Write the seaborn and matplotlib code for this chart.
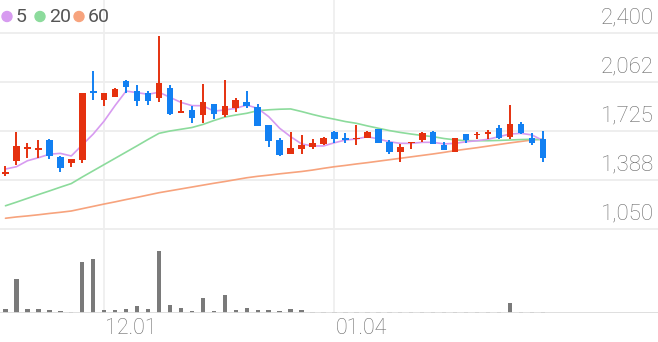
import numpy as np
import pandas as pd
import matplotlib
matplotlib.use("Agg")
import matplotlib.pyplot as plt
from matplotlib.patches import Ellipse
from matplotlib.transforms import blended_transform_factory
import seaborn as sns

# ---------------- data ----------------
opens = [1430, 1518, 1599, 1594, 1663, 1548, 1502, 1525, 2000, 1939,
         1961, 2071, 2000, 1985, 1954, 2019, 1849, 1870, 1835, 1909,
         1835, 1881, 1923, 1892, 1766, 1663, 1567, 1599, 1617, 1633,
         1720, 1675, 1668, 1679, 1737, 1651, 1578, 1640, 1663, 1716,
         1629, 1578, 1702, 1695, 1704, 1748, 1686, 1771, 1679, 1668]
closes = [1445, 1622, 1613, 1608, 1553, 1468, 1530, 1985, 1989, 1985,
          2014, 2026, 1932, 1932, 2054, 1840, 1863, 1812, 1927, 1840,
          1897, 1939, 1899, 1762, 1656, 1560, 1606, 1629, 1640, 1679,
          1670, 1663, 1679, 1720, 1640, 1578, 1617, 1647, 1709, 1636,
          1594, 1675, 1663, 1706, 1716, 1675, 1773, 1713, 1640, 1537]
highs = [1486, 1716, 1640, 1663, 1670, 1553, 1532, 1987, 2140, 1987,
         2021, 2076, 2042, 2000, 2381, 2042, 1939, 1897, 2047, 1911,
         2076, 1950, 2000, 1911, 1766, 1675, 1720, 1697, 1670, 1684,
         1725, 1709, 1766, 1725, 1739, 1663, 1633, 1651, 1720, 1725,
         1647, 1677, 1704, 1720, 1732, 1766, 1904, 1785, 1709, 1725]
lows = [1417, 1491, 1541, 1539, 1530, 1445, 1479, 1502, 1939, 1897,
        1959, 1985, 1897, 1902, 1927, 1835, 1847, 1782, 1778, 1808,
        1824, 1858, 1881, 1760, 1613, 1556, 1565, 1565, 1599, 1629,
        1644, 1640, 1629, 1677, 1639, 1565, 1514, 1599, 1647, 1633,
        1591, 1577, 1644, 1668, 1668, 1670, 1668, 1704, 1629, 1514]
volumes = [40, 340, 40, 40, 30, 20, 10, 510, 545, 30,
           30, 40, 70, 40, 617, 80, 50, 25, 150, 25,
           180, 30, 50, 30, 30, 20, 40, 30, 12, 10,
           8, 8, 15, 8, 8, 8, 8, 8, 10, 8,
           6, 6, 6, 6, 6, 10, 100, 10, 10, 15]
ma5 = [1463, 1479, 1520, 1541, 1565, 1571, 1553, 1629, 1704, 1794,
       1901, 2000, 1989, 1978, 1992, 1957, 1922, 1900, 1899, 1862,
       1870, 1881, 1904, 1881, 1824, 1744, 1686, 1636, 1622, 1622,
       1644, 1663, 1670, 1686, 1670, 1651, 1640, 1640, 1647, 1647,
       1636, 1640, 1651, 1658, 1668, 1686, 1704, 1709, 1698, 1660]
ma20 = [1210, 1235, 1261, 1287, 1312, 1338, 1363, 1408, 1451, 1494,
        1537, 1580, 1623, 1667, 1709, 1725, 1737, 1749, 1770, 1797,
        1821, 1835, 1847, 1865, 1871, 1875, 1877, 1859, 1839, 1821,
        1806, 1790, 1778, 1760, 1744, 1728, 1715, 1704, 1694, 1686,
        1673, 1664, 1658, 1658, 1658, 1660, 1663, 1666, 1668, 1665]
ma60 = [1124, 1133, 1140, 1148, 1157, 1165, 1174, 1190, 1206, 1222,
        1237, 1253, 1268, 1284, 1300, 1313, 1326, 1339, 1352, 1365,
        1377, 1390, 1403, 1413, 1421, 1430, 1438, 1446, 1456, 1468,
        1479, 1488, 1498, 1507, 1517, 1527, 1537, 1547, 1557, 1567,
        1578, 1590, 1600, 1610, 1621, 1632, 1643, 1653, 1663, 1670]
price_ticks = [1050, 1387.5, 1725, 2062.5, 2400]
price_labels = ["1,050", "1,388", "1,725", "2,062", "2,400"]
date_ticks = [9, 30]
date_labels = ["12.01", "01.04"]
legend_labels = ["5", "20", "60"]

# ---------------- style ----------------
RED = "#e5310f"
BLUE = "#1280f2"
C5, C20, C60 = "#d79bf0", "#8cdb9c", "#f7a37d"
GRID = "#eeeeee"
sns.set_theme(style="white")
plt.rcParams["font.family"] = ["Roboto", "DejaVu Sans"]

W, H = 658, 342
fig = plt.figure(figsize=(W / 100, H / 100), dpi=100)

idx = np.arange(len(closes))
df = pd.DataFrame({"i": idx, "open": opens, "close": closes, "high": highs,
                   "low": lows, "vol": volumes, "ma5": ma5, "ma20": ma20,
                   "ma60": ma60})

# pixel geometry
px_per_price = 49 / 337.5
price_top_px, price_bot_px = 0, 235
vol_top_px, vol_bot_px = 235, 313
XLIM = (-0.5, 59.5)

ax = fig.add_axes([0, (H - price_bot_px) / H, 1, (price_bot_px - price_top_px) / H])
axv = fig.add_axes([0, (H - vol_bot_px) / H, 1, (vol_bot_px - vol_top_px) / H])

ybot = 1050 - (price_bot_px - 229) / px_per_price
ytop = 2400 + (33 - price_top_px) / px_per_price

for a in (ax, axv):
    a.set_facecolor("none")
    for s in a.spines.values():
        s.set_visible(False)
    for t in date_ticks:
        a.axvline(t, color=GRID, lw=1.2, zorder=0)

for p in price_ticks:
    ax.axhline(p, color=GRID, lw=1.4, zorder=0)

# MA lines
sns.lineplot(data=df, x="i", y="ma60", ax=ax, color=C60, lw=1.2, zorder=2)
sns.lineplot(data=df, x="i", y="ma20", ax=ax, color=C20, lw=1.2, zorder=2)
sns.lineplot(data=df, x="i", y="ma5", ax=ax, color=C5, lw=1.2, zorder=2)

# candles
cols = [RED if c >= o else BLUE for o, c in zip(opens, closes)]
ax.vlines(idx, lows, highs, colors=cols, lw=1.4, zorder=3)
bottoms = np.minimum(opens, closes)
heights = np.maximum(np.abs(np.array(closes) - np.array(opens)), 9)
ax.bar(idx, heights, bottom=bottoms, width=0.6, color=cols, zorder=4,
       linewidth=0)

ax.set_xlim(*XLIM)
ax.set_ylim(ybot, ytop)
ax.set_xticks([])
ax.set_yticks([])
ax.set_xlabel("")
ax.set_ylabel("")

# price labels, right aligned, just above gridlines
tr = blended_transform_factory(ax.transAxes, ax.transData)
for p, lab in zip(price_ticks, price_labels):
    ax.annotate(lab, xy=(1, p), xycoords=tr, xytext=(-4, 5),
                textcoords="offset pixels", ha="right", va="bottom",
                fontsize=16, color="#6b6b6b", fontweight="light",
                annotation_clip=False)

# volume
sns.barplot(data=df, x="i", y="vol", ax=axv, color="#7a7a7a", width=0.4,
            native_scale=True, errorbar=None, saturation=1, linewidth=0)
axv.axhline(0, color="#dcdcdc", lw=1.3, zorder=5)
axv.set_xlim(*XLIM)
axv.set_ylim(0, max(volumes) * (vol_bot_px - vol_top_px) / 61.7)
axv.set_xticks([])
axv.set_yticks([])
axv.set_xlabel("")
axv.set_ylabel("")

trv = blended_transform_factory(axv.transData, axv.transAxes)
for t, lab in zip(date_ticks, date_labels):
    axv.annotate(lab, xy=(t, 0), xycoords=trv, xytext=(1, -5),
                 textcoords="offset pixels", ha="left", va="top",
                 fontsize=15.5, color="#6b6b6b", fontweight="light",
                 annotation_clip=False)

# legend (top-left)
leg_colors = [C5, C20, C60]
leg_circle_x = [7, 40, 79]
leg_text_x = [16, 49, 88]
for cx, tx, c, lab in zip(leg_circle_x, leg_text_x, leg_colors, legend_labels):
    fig.add_artist(Ellipse((cx / W, 1 - 16.5 / H), 10 / W, 10 / H,
                           transform=fig.transFigure, color=c))
    fig.text(tx / W, 1 - 17 / H, lab, ha="left", va="center", fontsize=14,
             color="#555555")

fig.savefig("out.png", dpi=100)
